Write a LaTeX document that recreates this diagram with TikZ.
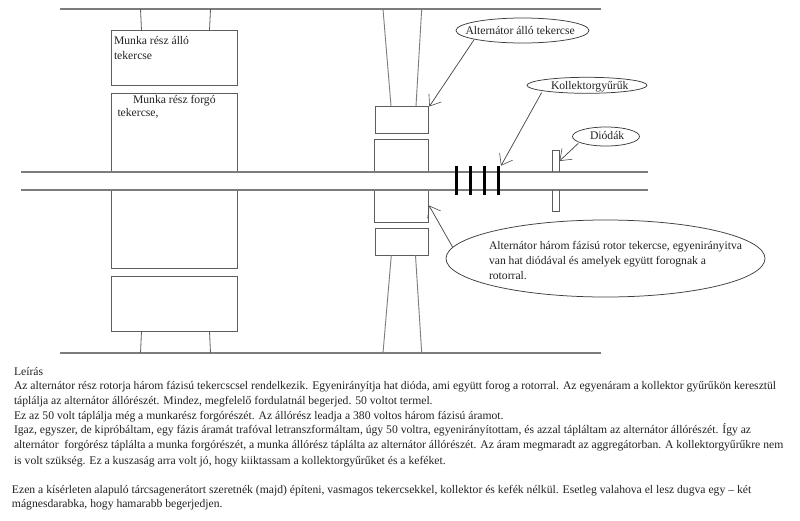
\documentclass[tikz,border=0pt]{standalone}
\usepackage{fontspec}
\setmainfont{Liberation Serif}
\usetikzlibrary{arrows.meta,shapes.geometric}
\definecolor{ln}{HTML}{7C7C7C}
\definecolor{tx}{HTML}{222222}
\tikzset{
  x=1pt,y=-1pt,
  base line/.style={draw=ln,line width=1.1pt},
  thin line/.style={draw=ln!75!black,line width=0.8pt},
  framebox/.style={draw=ln!75!black,line width=0.85pt,rectangle,inner sep=0pt,outer sep=0pt,anchor=north west},
  callout/.style={draw=ln!50!black,line width=0.75pt,ellipse,inner sep=0pt,outer sep=0pt},
  ringbar/.style={draw=black,line width=3pt},
  pointer/.style={draw=ln!60!black,line width=0.75pt,-{Straight Barb[length=10pt,width=15pt,line width=0.6pt]}},
  label/.style={font=\fontsize{11.65}{13}\selectfont,text=tx,inner sep=0pt,outer sep=0pt,anchor=base west},
  body/.style={font=\fontsize{11.65}{13}\selectfont,text=tx,inner sep=0pt,outer sep=0pt,anchor=base west},
}
\newcommand{\boxat}[5]{\node[framebox,minimum width=#4pt,minimum height=#5pt] (#1) at (#2,#3) {};}
\begin{document}
\begin{tikzpicture}
\useasboundingbox (0,0) rectangle (800,520);
\fill[white] (0,0) rectangle (800,520);
% frame lines
\coordinate (topL) at (60,9); \coordinate (topR) at (601,9);
\coordinate (botL) at (60,353); \coordinate (botR) at (601,353);
\draw[base line] (topL) -- (topR);
\draw[base line] (botL) -- (botR);
% work section boxes
\boxat{ws1}{111.5}{30.3}{126}{55.2}
\boxat{wr1}{111.5}{93.5}{126}{78.5}
\boxat{wr2}{111.5}{190}{126}{78}
\boxat{ws2}{111.5}{276}{126}{55.3}
% alternator boxes
\boxat{as1}{375.2}{106}{53.5}{27.3}
\boxat{ar1}{374.5}{139}{54.2}{32}
\boxat{ar2}{374.5}{190.3}{54.2}{32.4}
\boxat{as2}{375.2}{228.3}{53.5}{27}
% shaft
\coordinate (shLa) at (21,172); \coordinate (shRa) at (648,172);
\coordinate (shLb) at (21,190); \coordinate (shRb) at (648,190);
\draw[base line] (shLa) -- (shRa);
\draw[base line] (shLb) -- (shRb);
% supports
\draw[thin line] (140.5,9) -- (141.5,30.3);
\draw[thin line] (210.5,9) -- (209.5,30.3);
\draw[thin line] (141.5,331.3) -- (140.5,353);
\draw[thin line] (209.5,331.3) -- (210.5,353);
\draw[base line,line width=0.9pt] (383,9) -- (391,106);
\draw[base line,line width=0.9pt] (421.7,9) -- (416,106);
\draw[base line,line width=0.9pt] (391.3,255.3) -- (383,353);
\draw[base line,line width=0.9pt] (415.5,255.3) -- (421.7,353);
% collector rings
\foreach \x in {456.3,470.5,484.7,498.8} \draw[ringbar] (\x,166) -- (\x,194.7);
% diode disc
\draw[thin line] (552.7,172) -- (552.7,150.5) -- (559,150.5) -- (559,172);
\draw[thin line] (552.7,190) -- (552.7,211) -- (559,211) -- (559,190);
% callouts
\node[callout,minimum width=133pt,minimum height=25pt] (cA) at (522.5,30.5) {};
\node[callout,minimum width=120pt,minimum height=16pt] (cK) at (587,85.3) {};
\node[callout,minimum width=67pt,minimum height=19pt] (cD) at (606,136.5) {};
\node[callout,minimum width=319pt,minimum height=77pt] (cR) at (605.5,258.5) {};
% pointers
\coordinate (tA) at (429.3,106.5);
\coordinate (tK) at (501,165.7);
\coordinate (tD) at (559.5,161);
\coordinate (tR) at (429,205.5);
\coordinate (sA) at (474,39.8);
\coordinate (sK) at (541.7,92.5);
\coordinate (sD) at (578.3,143.3);
\coordinate (sR) at (452.7,247.3);
\draw[pointer] (sA) -- (tA);
\draw[pointer] (sK) -- (tK);
\draw[pointer] (sD) -- (tD);
\draw[pointer] (sR) -- (tR);
% labels
\node[label] (l1) at (114,44) {Munka rész álló};
\node[label] (l2) at (114,59) {tekercse};
\node[label] (l3) at (133,103) {Munka rész forgó};
\node[label] (l4) at (117.5,116) {tekercse,};
\node[label] (l5) at (465.5,34) {Alternátor álló tekercse};
\node[label] (l6) at (551,89) {Kollektorgyűrűk};
\node[label] (l7) at (590,139) {Diódák};
\node[label] (l8) at (489,249) {Alternátor három fázisú rotor tekercse, egyenirányitva};
\node[label] (l9) at (489,264) {van hat diódával és amelyek együtt forognak a};
\node[label] (l10) at (489,279) {rotorral.};
% description
\node[body] (d0) at (14,375) {Leírás};
\node[body] (d1) at (14,389) {Az alternátor rész rotorja három fázisú tekercscsel rendelkezik. Egyenirányítja hat dióda, ami együtt forog a rotorral. Az egyenáram a kollektor gyűrűkön keresztül};
\node[body] (d2) at (14,404) {táplálja az alternátor állórészét. Mindez, megfelelő fordulatnál begerjed. 50 voltot termel.};
\node[body] (d3) at (14,419) {Ez az 50 volt táplálja még a munkarész forgórészét. Az állórész leadja a 380 voltos három fázisú áramot.};
\node[body] (d4) at (14,433) {Igaz, egyszer, de kipróbáltam, egy fázis áramát trafóval letranszformáltam, úgy 50 voltra, egyenirányítottam, és azzal tápláltam az alternátor állórészét. Így az};
\node[body] (d5) at (14,448) {alternátor\ \ forgórész táplálta a munka forgórészét, a munka állórész táplálta az alternátor állórészét. Az áram megmaradt az aggregátorban. A kollektorgyűrűkre nem};
\node[body] (d6) at (14,464) {is volt szükség. Ez a kuszaság arra volt jó, hogy kiiktassam a kollektorgyűrűket és a keféket.};
\node[body] (e1) at (12,493) {Ezen a kísérleten alapuló tárcsagenerátort szeretnék (majd) építeni, vasmagos tekercsekkel, kollektor és kefék nélkül. Esetleg valahova el lesz dugva egy – két};
\node[body] (e2) at (12,507) {mágnesdarabka, hogy hamarabb begerjedjen.};
\end{tikzpicture}
\end{document}
